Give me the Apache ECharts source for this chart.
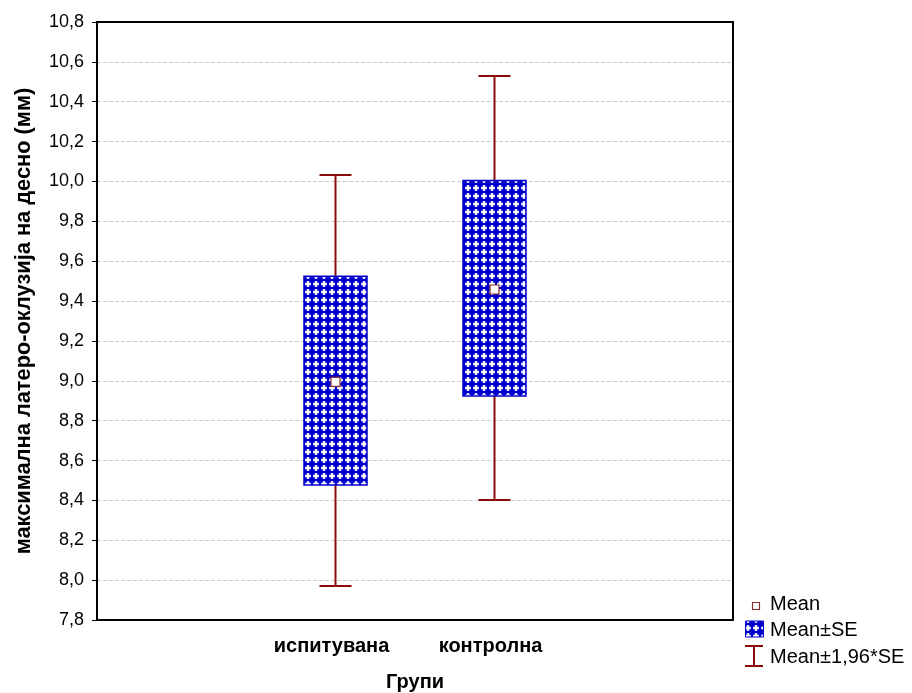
<!DOCTYPE html>
<html>
<head>
<meta charset="utf-8">
<script src="https://cdn.jsdelivr.net/npm/echarts@6/dist/echarts.min.js"></script>
<style>
  html, body { margin: 0; padding: 0; background: #fff; }
  #chart { width: 912px; height: 693px; }
</style>
</head>
<body>
<div id="chart"></div>
<script>
// Groups on the x axis (outer slots are empty padding positions)
const categories = ['', 'испитувана', 'контролна', ''];
const groupIndex = [1, 2];
// Mean per group
const meanValues = [8.995, 9.458];
// Mean ± SE
const seLow = [8.477, 8.924];
const seHigh = [9.524, 10.005];
// Mean ± 1,96*SE
const ciLow = [7.971, 8.402];
const ciHigh = [10.032, 10.529];
// y axis range and step
const yMin = 7.8, yMax = 10.8, yStep = 0.2;

const FONT = '"Liberation Sans", Arial, sans-serif';
const BOX_BLUE = '#0000cc';
const WHISKER = '#8b0a0a';
const MEAN_EDGE = '#8b3030';

// Dotted blue fill used by the SE boxes
function makePattern() {
  const c = document.createElement('canvas');
  c.width = 8; c.height = 8;
  const g = c.getContext('2d');
  g.fillStyle = BOX_BLUE;
  g.fillRect(0, 0, 8, 8);
  const grd = g.createRadialGradient(4, 4, 0, 4, 4, 3.2);
  grd.addColorStop(0, 'rgba(255,255,255,1)');
  grd.addColorStop(0.5, 'rgba(225,225,255,0.75)');
  grd.addColorStop(1, 'rgba(255,255,255,0)');
  g.fillStyle = grd;
  g.fillRect(0, 0, 8, 8);
  g.fillStyle = 'rgba(255,255,255,0.8)';
  g.fillRect(3, 1, 2, 6);
  g.fillRect(1, 3, 6, 2);
  return c;
}
const pattern = { image: makePattern(), repeat: 'repeat' };

const seData = groupIndex.map((x, i) => [x, seLow[i], seHigh[i]]);
const ciData = groupIndex.map((x, i) => [x, ciLow[i], ciHigh[i], seLow[i], seHigh[i]]);
const meanData = groupIndex.map((x, i) => [x, meanValues[i]]);

const chart = echarts.init(document.getElementById('chart'), null, { renderer: 'canvas' });

const axisLabelFmt = v => v.toFixed(1).replace('.', ',');

chart.setOption({
  animation: false,
  backgroundColor: '#fff',
  grid: { left: 97, right: 179, top: 22, bottom: 73, containLabel: false, outerBoundsMode: 'none' },
  xAxis: [
    {
      type: 'category', data: categories, position: 'bottom',
      boundaryGap: true,
      axisLine: { lineStyle: { color: '#000', width: 2 } },
      axisTick: { alignWithLabel: true, inside: true, length: 5, lineStyle: { color: '#000', width: 1 } },
      axisLabel: { color: '#000', fontFamily: FONT, fontWeight: 'bold', fontSize: 20, margin: 16,
                   interval: 0, padding: [0, 8, 0, 0] },
      name: 'Групи', nameLocation: 'middle', nameGap: 52,
      nameTextStyle: { color: '#000', fontFamily: FONT, fontWeight: 'bold', fontSize: 20 },
      splitLine: { show: false }
    },
    {
      type: 'category', data: categories, position: 'top',
      boundaryGap: true,
      axisLine: { lineStyle: { color: '#000', width: 2 } },
      axisTick: { alignWithLabel: true, inside: true, length: 5, lineStyle: { color: '#000', width: 1 } },
      axisLabel: { show: false },
      splitLine: { show: false }
    }
  ],
  yAxis: [
    {
      type: 'value', min: yMin, max: yMax, interval: yStep, position: 'left',
      axisLine: { show: true, lineStyle: { color: '#000', width: 2 } },
      axisTick: { show: true, inside: false, length: 5, lineStyle: { color: '#000', width: 1 } },
      axisLabel: { color: '#000', fontFamily: FONT, fontSize: 18, margin: 13, formatter: axisLabelFmt },
      splitLine: { show: true, lineStyle: { color: '#cccccc', type: [4, 2], width: 1 } },
      name: 'максимална латеро-оклузија на десно (мм)', nameLocation: 'middle', nameGap: 62,
      nameTextStyle: { color: '#000', fontFamily: FONT, fontWeight: 'bold', fontSize: 21.8 }
    },
    {
      type: 'value', min: yMin, max: yMax, interval: yStep, position: 'right',
      axisLine: { show: true, lineStyle: { color: '#000', width: 2 } },
      axisTick: { show: false }, axisLabel: { show: false }, splitLine: { show: false }
    }
  ],
  series: [
    {
      name: 'Mean±1,96*SE', type: 'custom', xAxisIndex: 0, yAxisIndex: 0, z: 2,
      data: ciData,
      renderItem: function (params, api) {
        const x = api.value(0);
        const lo = api.coord([x, api.value(1)]);
        const hi = api.coord([x, api.value(2)]);
        const bl = api.coord([x, api.value(3)]);
        const bh = api.coord([x, api.value(4)]);
        const half = 16;
        const style = { stroke: WHISKER, lineWidth: 2 };
        return {
          type: 'group',
          children: [
            { type: 'line', shape: { x1: hi[0], y1: hi[1], x2: bh[0], y2: bh[1] }, style },
            { type: 'line', shape: { x1: lo[0], y1: lo[1], x2: bl[0], y2: bl[1] }, style },
            { type: 'line', shape: { x1: hi[0] - half, y1: hi[1], x2: hi[0] + half, y2: hi[1] }, style },
            { type: 'line', shape: { x1: lo[0] - half, y1: lo[1], x2: lo[0] + half, y2: lo[1] }, style }
          ]
        };
      }
    },
    {
      name: 'Mean±SE', type: 'custom', xAxisIndex: 0, yAxisIndex: 0, z: 3,
      data: seData,
      renderItem: function (params, api) {
        const x = api.value(0);
        const lo = api.coord([x, api.value(1)]);
        const hi = api.coord([x, api.value(2)]);
        const w = 63;
        return {
          type: 'rect',
          shape: { x: lo[0] - w / 2, y: hi[1], width: w, height: lo[1] - hi[1] },
          style: { fill: pattern, stroke: BOX_BLUE, lineWidth: 1.5 }
        };
      }
    },
    {
      name: 'Mean', type: 'scatter', xAxisIndex: 0, yAxisIndex: 0, z: 4,
      data: meanData, symbol: 'rect', symbolSize: 9,
      itemStyle: { color: '#fff', borderColor: MEAN_EDGE, borderWidth: 1.2, opacity: 1 }
    }
  ],
  graphic: [
    // legend: marker, box and error-bar keys
    { type: 'rect', shape: { x: 752.5, y: 602.5, width: 7, height: 7 },
      style: { fill: '#fff', stroke: MEAN_EDGE, lineWidth: 1.2 } },
    { type: 'text', style: { x: 770, y: 604, text: 'Mean', font: '20px ' + FONT, fill: '#000', align: 'left', verticalAlign: 'middle' } },
    { type: 'rect', shape: { x: 745.5, y: 621, width: 18, height: 16 },
      style: { fill: pattern, stroke: BOX_BLUE, lineWidth: 1 } },
    { type: 'text', style: { x: 770, y: 630, text: 'Mean±SE', font: '20px ' + FONT, fill: '#000', align: 'left', verticalAlign: 'middle' } },
    { type: 'line', shape: { x1: 745, y1: 646, x2: 763, y2: 646 }, style: { stroke: WHISKER, lineWidth: 2 } },
    { type: 'line', shape: { x1: 754, y1: 646, x2: 754, y2: 666 }, style: { stroke: WHISKER, lineWidth: 2 } },
    { type: 'line', shape: { x1: 745, y1: 666, x2: 763, y2: 666 }, style: { stroke: WHISKER, lineWidth: 2 } },
    { type: 'text', style: { x: 770, y: 657, text: 'Mean±1,96*SE', font: '20px ' + FONT, fill: '#000', align: 'left', verticalAlign: 'middle' } }
  ]
});
</script>
</body>
</html>
